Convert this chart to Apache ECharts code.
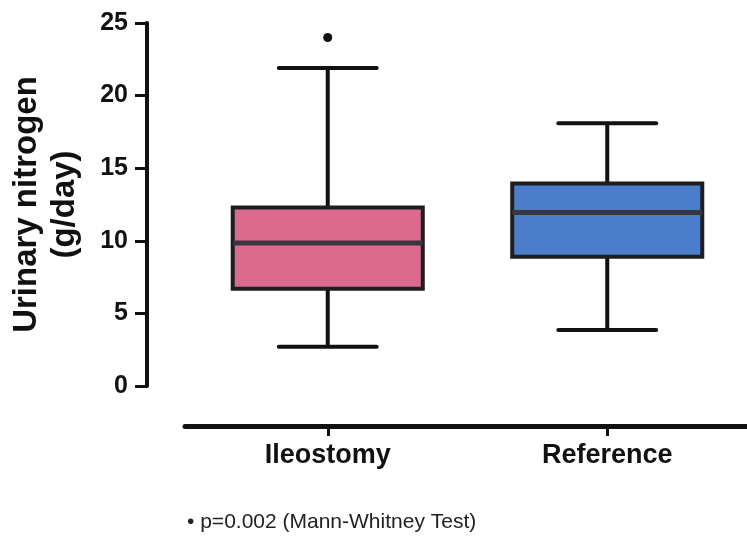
<!DOCTYPE html>
<html>
<head>
<meta charset="utf-8">
<script src="https://cdn.jsdelivr.net/npm/echarts@6/dist/echarts.min.js"></script>
<style>html,body{margin:0;padding:0;background:#fff;}#c{width:747px;height:536px;}</style>
</head>
<body>
<div id="c"></div>
<script>
// ---- data ----
const categories = ['Ileostomy', 'Reference'];
const lows    = [2.7, 3.85];
const q1s     = [6.7, 8.9];
const medians = [9.85, 11.95];
const q3s     = [12.3, 13.95];
const highs   = [21.9, 18.1];
const outliers = [[0, 24.0]];
const yTicks = [0, 5, 10, 15, 20, 25];
const note = '\u2022 p=0.002 (Mann-Whitney Test)';
const yTitle = 'Urinary nitrogen\n(g/day)';

// ---- styles ----
const boxColors = ['#dc6a8e', '#4b7dca'];
const FONT = '"Liberation Sans", Arial, sans-serif';
const INK = '#111';

const boxData = categories.map((c, i) => [i, lows[i], q1s[i], medians[i], q3s[i], highs[i]]);

const chart = echarts.init(document.getElementById('c'));
chart.setOption({
  animation: false,
  backgroundColor: '#fff',
  textStyle: { fontFamily: FONT },
  title: {
    text: note, left: 182, top: 507,
    textStyle: { fontSize: 21, fontWeight: 'normal', color: '#222', fontFamily: FONT }
  },
  grid: [
    { left: 188, width: 565, top: 23, height: 363 },
    { left: 185, right: 0, top: 23, height: 363 }
  ],
  xAxis: [
    { gridIndex: 0, type: 'category', data: categories, offset: 40,
      axisLine: { show: false, onZero: false },
      axisTick: { show: true, alignWithLabel: true, length: 10, lineStyle: { width: 3, color: INK } },
      axisLabel: { fontSize: 27, fontWeight: 'bold', color: INK, margin: 16, fontFamily: FONT } },
    { gridIndex: 1, type: 'value', min: 0, max: 1, offset: 40,
      axisLine: { show: true, onZero: false, lineStyle: { width: 5, color: INK } },
      axisTick: { show: false }, axisLabel: { show: false }, splitLine: { show: false } }
  ],
  yAxis: [
    { gridIndex: 0, type: 'value', min: 0, max: 25, interval: 5, offset: 41,
      axisLine: { show: true, onZero: false, lineStyle: { width: 4, color: INK } },
      axisTick: { show: true, length: 12, lineStyle: { width: 3, color: INK } },
      axisLabel: { fontSize: 25, fontWeight: 'bold', color: INK, margin: 19, fontFamily: FONT,
        formatter: v => yTicks.includes(v) ? String(v) : '' },
      splitLine: { show: false },
      name: yTitle, nameLocation: 'middle', nameGap: 63, nameRotate: 90,
      nameTextStyle: { fontSize: 33, fontWeight: 'bold', color: INK, lineHeight: 38, fontFamily: FONT } },
    { gridIndex: 1, type: 'value', show: false }
  ],
  series: [
    {
      type: 'custom', xAxisIndex: 0, yAxisIndex: 0,
      data: boxData,
      encode: { x: 0, y: [1, 2, 3, 4, 5] },
      renderItem: function (params, api) {
        const idx = api.value(0);
        const band = api.size([1, 0])[0];
        const bw = band * 0.68;
        const cw = band * 0.35;
        const pLow = api.coord([idx, api.value(1)]);
        const pQ1 = api.coord([idx, api.value(2)]);
        const pMed = api.coord([idx, api.value(3)]);
        const pQ3 = api.coord([idx, api.value(4)]);
        const pHigh = api.coord([idx, api.value(5)]);
        const x = pMed[0];
        const lineStyle = { stroke: INK, lineWidth: 4 };
        return {
          type: 'group',
          children: [
            { type: 'line', shape: { x1: x, y1: pHigh[1], x2: x, y2: pQ3[1] }, style: lineStyle },
            { type: 'line', shape: { x1: x, y1: pQ1[1], x2: x, y2: pLow[1] }, style: lineStyle },
            { type: 'line', shape: { x1: x - cw / 2, y1: pHigh[1], x2: x + cw / 2, y2: pHigh[1] }, style: Object.assign({ lineCap: 'round' }, lineStyle) },
            { type: 'line', shape: { x1: x - cw / 2, y1: pLow[1], x2: x + cw / 2, y2: pLow[1] }, style: Object.assign({ lineCap: 'round' }, lineStyle) },
            { type: 'rect', shape: { x: x - bw / 2, y: pQ3[1], width: bw, height: pQ1[1] - pQ3[1] },
              style: { fill: boxColors[idx], stroke: '#1e1e22', lineWidth: 4 } },
            { type: 'line', shape: { x1: x - bw / 2, y1: pMed[1], x2: x + bw / 2, y2: pMed[1] },
              style: { stroke: '#38363f', lineWidth: 5 } }
          ]
        };
      }
    },
    {
      type: 'scatter', xAxisIndex: 0, yAxisIndex: 0,
      data: outliers, symbolSize: 9, itemStyle: { color: INK, opacity: 1 }
    }
  ]
});
</script>
</body>
</html>
